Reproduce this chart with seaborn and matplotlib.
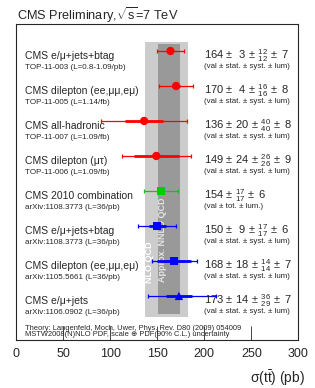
import numpy as np
import pandas as pd
import matplotlib
matplotlib.use("Agg")
import matplotlib.pyplot as plt
import seaborn as sns

# measurements, top to bottom
labels = ["CMS e/\u03bc+jets+btag", "CMS dilepton (ee,\u03bc\u03bc,e\u03bc)", "CMS all-hadronic",
          "CMS dilepton (\u03bc\u03c4)", "CMS 2010 combination", "CMS e/\u03bc+jets+btag",
          "CMS dilepton (ee,\u03bc\u03bc,e\u03bc)", "CMS e/\u03bc+jets"]
refs = ["TOP-11-003 (L=0.8-1.09/pb)", "TOP-11-005 (L=1.14/fb)", "TOP-11-007 (L=1.09/fb)",
        "TOP-11-006 (L=1.09/fb)", "arXiv:1108.3773 (L=36/pb)", "arXiv:1108.3773 (L=36/pb)",
        "arXiv:1105.5661 (L=36/pb)", "arXiv:1106.0902 (L=36/pb)"]
xsec = [164, 170, 136, 149, 154, 150, 168, 173]
stat = [3, 4, 20, 24, 17, 9, 18, 14]
syst_up = [12, 16, 40, 26, 0, 17, 14, 36]
syst_dn = [12, 16, 40, 26, 0, 17, 14, 29]
lumi = [7, 8, 8, 9, 6, 6, 7, 7]
groups = ["red", "red", "red", "red", "green", "blue", "blue", "blue_tri"]
sublabels = ["(val \u00b1 stat. \u00b1 syst. \u00b1 lum)"] * 4 + ["(val \u00b1 tot. \u00b1 lum.)"] + \
            ["(val \u00b1 stat. \u00b1 syst. \u00b1 lum)"] * 3

# theory bands (pb)
nlo_band = (136.5, 182.5)
nnlo_band = (150.5, 174.0)

colors = {"red": "#ff0000", "green": "#00cc00", "blue": "#0000ff", "blue_tri": "#0000ff"}
markers = {"red": "o", "green": "s", "blue": "s", "blue_tri": "^"}

df = pd.DataFrame({"label": labels, "ref": refs, "xsec": xsec, "stat": stat,
                   "syst_up": syst_up, "syst_dn": syst_dn, "lumi": lumi, "group": groups})
df["row"] = np.arange(len(df))
df["tot_up"] = np.sqrt(df.stat**2 + df.syst_up**2 + df.lumi**2)
df["tot_dn"] = np.sqrt(df.stat**2 + df.syst_dn**2 + df.lumi**2)

sns.set_style("ticks")
plt.rcParams['font.family'] = ['Liberation Sans', 'DejaVu Sans']
plt.rcParams['mathtext.fontset'] = 'custom'
plt.rcParams['mathtext.rm'] = 'Liberation Sans'
plt.rcParams['mathtext.it'] = 'Liberation Sans'
plt.rcParams['mathtext.bf'] = 'Liberation Sans:bold'

fig = plt.figure(figsize=(3.15, 3.88), dpi=100)
ax = fig.add_axes([0.0517, 0.1237, 0.8953, 0.8143])

ylo, yhi = 7.6, -0.27
ax.fill_betweenx([yhi, ylo], nlo_band[0], nlo_band[1], color="#cccccc", lw=0, zorder=0)
ax.fill_betweenx([yhi + 0.08, ylo - 0.08], nnlo_band[0], nnlo_band[1], color="#999999", lw=0, zorder=0)
ax.text(142.0, 6.03, "NLO QCD", rotation=90, color="white", fontsize=6.5, fontweight="bold",
        ha="center", va="center", zorder=1)
ax.text(156.0, 5.4, "Approx. NNLO QCD", rotation=90, color="#e6e6e6", fontsize=6.5, fontweight="bold",
        ha="center", va="center", zorder=1)

for _, r in df.iterrows():
    c = colors[r.group]
    ax.errorbar(r.xsec, r.row, xerr=[[r.tot_dn], [r.tot_up]], fmt="none", ecolor=c,
                elinewidth=0.9, capsize=1.5, capthick=0.9, zorder=2)
    if r.syst_up > 0:
        ax.errorbar(r.xsec, r.row, xerr=r.stat, fmt="none", ecolor=c, elinewidth=2.0, capsize=0, zorder=3)

sns.scatterplot(data=df, x="xsec", y="row", hue="group", style="group", palette=colors,
                markers=markers, s=36, edgecolor="none", legend=False, ax=ax, zorder=4)

for _, r in df.iterrows():
    ax.text(9.3, r.row + 0.14, r.label, fontsize=7.5, ha="left", va="center")
    ax.text(9.3, r.row + 0.46, r.ref, fontsize=5.8, ha="left", va="center")
    if r.syst_up == 0:
        s = r"$%d \,\pm\, {}^{%d}_{%d} \,\pm\ %d$" % (r.xsec, r.stat, r.stat, r.lumi)
    else:
        st = ("\\ %d" % r.stat) if r.stat < 10 else ("%d" % r.stat)
        s = r"$%d \,\pm\, %s \,\pm\, {}^{%d}_{%d} \,\pm\ %d$" % (r.xsec, st, r.syst_up, r.syst_dn, r.lumi)
    ax.text(200.0, r.row + 0.14, s, fontsize=8.0, ha="left", va="center")
    ax.text(200.0, r.row + 0.44, sublabels[int(r.row)], fontsize=5.7, ha="left", va="center")

ax.text(9.3, 7.93, "Theory: Langenfeld, Moch, Uwer, Phys. Rev. D80 (2009) 054009",
        fontsize=5.4, ha="left", va="center")
ax.text(9.3, 8.1, "MSTW2008(N)NLO PDF, scale \u2295 PDF(90% C.L.) uncertainty",
        fontsize=5.4, ha="left", va="center")

ax.set_xlim(0, 300)
ax.set_ylim(8.26, -0.77)
ax.set_yticks([])
ax.set_xticks([0, 50, 100, 150, 200, 250, 300])
ax.tick_params(axis="x", direction="in", length=10, width=0.6, labelsize=9, pad=6)
ax.set_xlabel("")
ax.set_ylabel("")
for sp in ax.spines.values():
    sp.set_linewidth(0.8)
    sp.set_visible(True)

fig.text(0.054, 0.962, r"CMS Preliminary,$\sqrt{s}$=7 TeV", fontsize=9.2, ha="left", va="center")
fig.text(0.968, 0.026, r"$\sigma(t\bar{t})$ (pb)", fontsize=10, ha="right", va="center")

fig.savefig("out.png", dpi=100)
